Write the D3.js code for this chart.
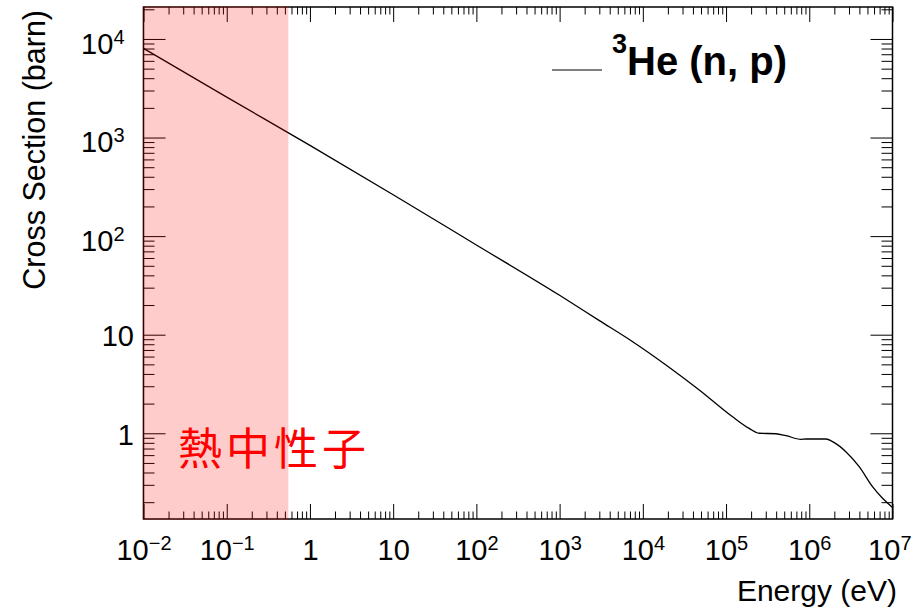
<!DOCTYPE html>
<html>
<head>
<meta charset="utf-8">
<script src="https://cdn.jsdelivr.net/npm/d3@7"></script>
<style>
  body { margin: 0; background: #fff; }
  svg { display: block; }
</style>
</head>
<body>
<svg id="chart"></svg>
<script>
// 3He(n,p) cross section
const energies = [0.01, 0.1, 1, 10, 100, 1000, 3006, 7551, 18970, 47640, 119700,
    189700, 250000, 398000, 524800, 794000, 912000, 1.585e6, 2.0e6, 2.75e6,
    3.98e6, 5.75e6, 7.59e6, 1e7];
const crossSections = [8035, 2570, 832, 263, 81.3, 25.1, 13.9, 8.49, 4.93, 2.75, 1.47,
    1.12, 1.0, 0.989, 0.946, 0.869, 0.875, 0.875, 0.803, 0.650,
    0.458, 0.287, 0.219, 0.177];

const xTickValues = [1e-2, 1e-1, 1, 10, 1e2, 1e3, 1e4, 1e5, 1e6, 1e7];
const xTickLabels = ["10^-2", "10^-1", "1", "10", "10^2", "10^3", "10^4", "10^5", "10^6", "10^7"];
const yTickValues = [1, 10, 1e2, 1e3, 1e4];
const yTickLabels = ["1", "10", "10^2", "10^3", "10^4"];

const thermalLimit = 0.55;      // upper edge of the shaded band (eV)
const thermalLabel = "熱中性子";
const legendLabel = ["3", "He (n, p)"];
const xTitle = "Energy (eV)";
const yTitle = "Cross Section (barn)";

const width = 913;
const height = 609;
const plot = { left: 143.5, right: 892.5, top: 7, bottom: 519 };
const font = "'Liberation Sans', Arial, Helvetica, sans-serif";

const svg = d3.select("#chart")
    .attr("width", width)
    .attr("height", height)
    .attr("font-family", font);

const xScale = d3.scaleLog().domain([1e-2, 1e7]).range([plot.left, plot.right]);
const yScale = d3.scaleLog().domain([0.135, 21100]).range([plot.bottom, plot.top]);

// minor ticks 2..9 in each decade
function minorTicks(scale) {
    const [a, b] = scale.domain();
    const out = [];
    for (let k = Math.floor(Math.log10(a)); k <= Math.ceil(Math.log10(b)); k++) {
        for (let m = 2; m <= 9; m++) {
            const v = m * Math.pow(10, k);
            if (v >= a && v <= b) out.push(v);
        }
    }
    return out;
}

function setLabel(sel, label) {
    const parts = label.split("^");
    sel.text(parts[0]);
    if (parts[1]) {
        sel.append("tspan")
            .attr("font-size", 20)
            .attr("dy", -10)
            .text(parts[1].replace("-", "\u2212"));
    }
}

function styleAxis(g) {
    g.select(".domain").remove();
    g.attr("font-family", font).attr("font-size", 29);
    g.selectAll(".tick line").attr("stroke", "#000").attr("stroke-width", 1);
}

// Curve
svg.append("clipPath")
    .attr("id", "plot-area")
    .append("rect")
    .attr("x", plot.left)
    .attr("y", plot.top)
    .attr("width", plot.right - plot.left)
    .attr("height", plot.bottom - plot.top);

const data = energies.map((e, i) => [e, crossSections[i]]);
const line = d3.line()
    .x(d => xScale(d[0]))
    .y(d => yScale(d[1]))
    .curve(d3.curveMonotoneX);

svg.append("path")
    .datum(data)
    .attr("clip-path", "url(#plot-area)")
    .attr("fill", "none")
    .attr("stroke", "#000")
    .attr("stroke-width", 1.3)
    .attr("d", line);

// Bottom axis
svg.append("g")
    .attr("transform", `translate(0,${plot.bottom})`)
    .call(d3.axisBottom(xScale).tickValues(minorTicks(xScale)).tickSize(-7.5).tickFormat(""))
    .call(styleAxis);
svg.append("g")
    .attr("transform", `translate(0,${plot.bottom})`)
    .call(d3.axisBottom(xScale).tickValues(xTickValues).tickSize(-15).tickFormat((d, i) => xTickLabels[i]))
    .call(styleAxis)
    .call(g => g.selectAll(".tick text")
        .attr("fill", "#000")
        .attr("y", 41)
        .attr("dy", null)
        .each(function (d, i) {
            setLabel(d3.select(this), xTickLabels[i]);
            // keep the last label inside the page
            const box = this.getBBox();
            const over = xScale(d) + box.x + box.width - (width - 2);
            if (over > 0) d3.select(this).attr("x", -over);
        }));

// Top axis (ticks only)
svg.append("g")
    .attr("transform", `translate(0,${plot.top})`)
    .call(d3.axisTop(xScale).tickValues(minorTicks(xScale)).tickSize(-7.5).tickFormat(""))
    .call(styleAxis);
svg.append("g")
    .attr("transform", `translate(0,${plot.top})`)
    .call(d3.axisTop(xScale).tickValues(xTickValues).tickSize(-15).tickFormat(""))
    .call(styleAxis);

// Left axis
svg.append("g")
    .attr("transform", `translate(${plot.left},0)`)
    .call(d3.axisLeft(yScale).tickValues(minorTicks(yScale)).tickSize(-11).tickFormat(""))
    .call(styleAxis);
svg.append("g")
    .attr("transform", `translate(${plot.left},0)`)
    .call(d3.axisLeft(yScale).tickValues(yTickValues).tickSize(-22).tickFormat((d, i) => yTickLabels[i]))
    .call(styleAxis)
    .call(g => g.selectAll(".tick text")
        .attr("fill", "#000")
        .each(function (d, i) {
            const sup = yTickLabels[i].includes("^");
            d3.select(this)
                .attr("x", sup ? -19 : -9.5)
                .attr("dy", sup ? "0.49em" : "0.38em");
            setLabel(d3.select(this), yTickLabels[i]);
        }));

// Right axis (ticks only)
svg.append("g")
    .attr("transform", `translate(${plot.right},0)`)
    .call(d3.axisRight(yScale).tickValues(minorTicks(yScale)).tickSize(-11).tickFormat(""))
    .call(styleAxis);
svg.append("g")
    .attr("transform", `translate(${plot.right},0)`)
    .call(d3.axisRight(yScale).tickValues(yTickValues).tickSize(-22).tickFormat(""))
    .call(styleAxis);

// Frame
svg.append("rect")
    .attr("x", plot.left)
    .attr("y", plot.top)
    .attr("width", plot.right - plot.left)
    .attr("height", plot.bottom - plot.top)
    .attr("fill", "none")
    .attr("stroke", "#000")
    .attr("stroke-width", 1.5);

// Thermal band, drawn over the axes like the original
svg.append("rect")
    .attr("x", xScale(1e-2) - 1)
    .attr("y", plot.top - 1)
    .attr("width", xScale(thermalLimit) - xScale(1e-2) + 1)
    .attr("height", plot.bottom - plot.top + 2)
    .attr("fill", "#ff0000")
    .attr("fill-opacity", 0.2);

svg.append("text")
    .attr("x", 178)
    .attr("y", 465)
    .attr("font-family", "'Noto Sans CJK JP', sans-serif")
    .attr("font-size", 44)
    .attr("letter-spacing", 4)
    .attr("fill", "#ff0000")
    .text(thermalLabel);

// Legend
svg.append("line")
    .attr("x1", 552).attr("x2", 602)
    .attr("y1", 70).attr("y2", 70)
    .attr("stroke", "#000")
    .attr("stroke-width", 1.2);

const legendText = svg.append("text")
    .attr("x", 612)
    .attr("y", 75)
    .attr("font-weight", "bold")
    .attr("fill", "#000");
legendText.append("tspan")
    .attr("font-size", 27)
    .attr("dy", -22)
    .text(legendLabel[0]);
legendText.append("tspan")
    .attr("font-size", 40)
    .attr("dy", 22)
    .text(legendLabel[1]);

// Axis titles
svg.append("text")
    .attr("x", 897)
    .attr("y", 601)
    .attr("text-anchor", "end")
    .attr("font-size", 30)
    .attr("fill", "#000")
    .text(xTitle);

svg.append("text")
    .attr("transform", "translate(45,10) rotate(-90)")
    .attr("text-anchor", "end")
    .attr("font-size", 30.5)
    .attr("fill", "#000")
    .text(yTitle);
</script>
</body>
</html>
